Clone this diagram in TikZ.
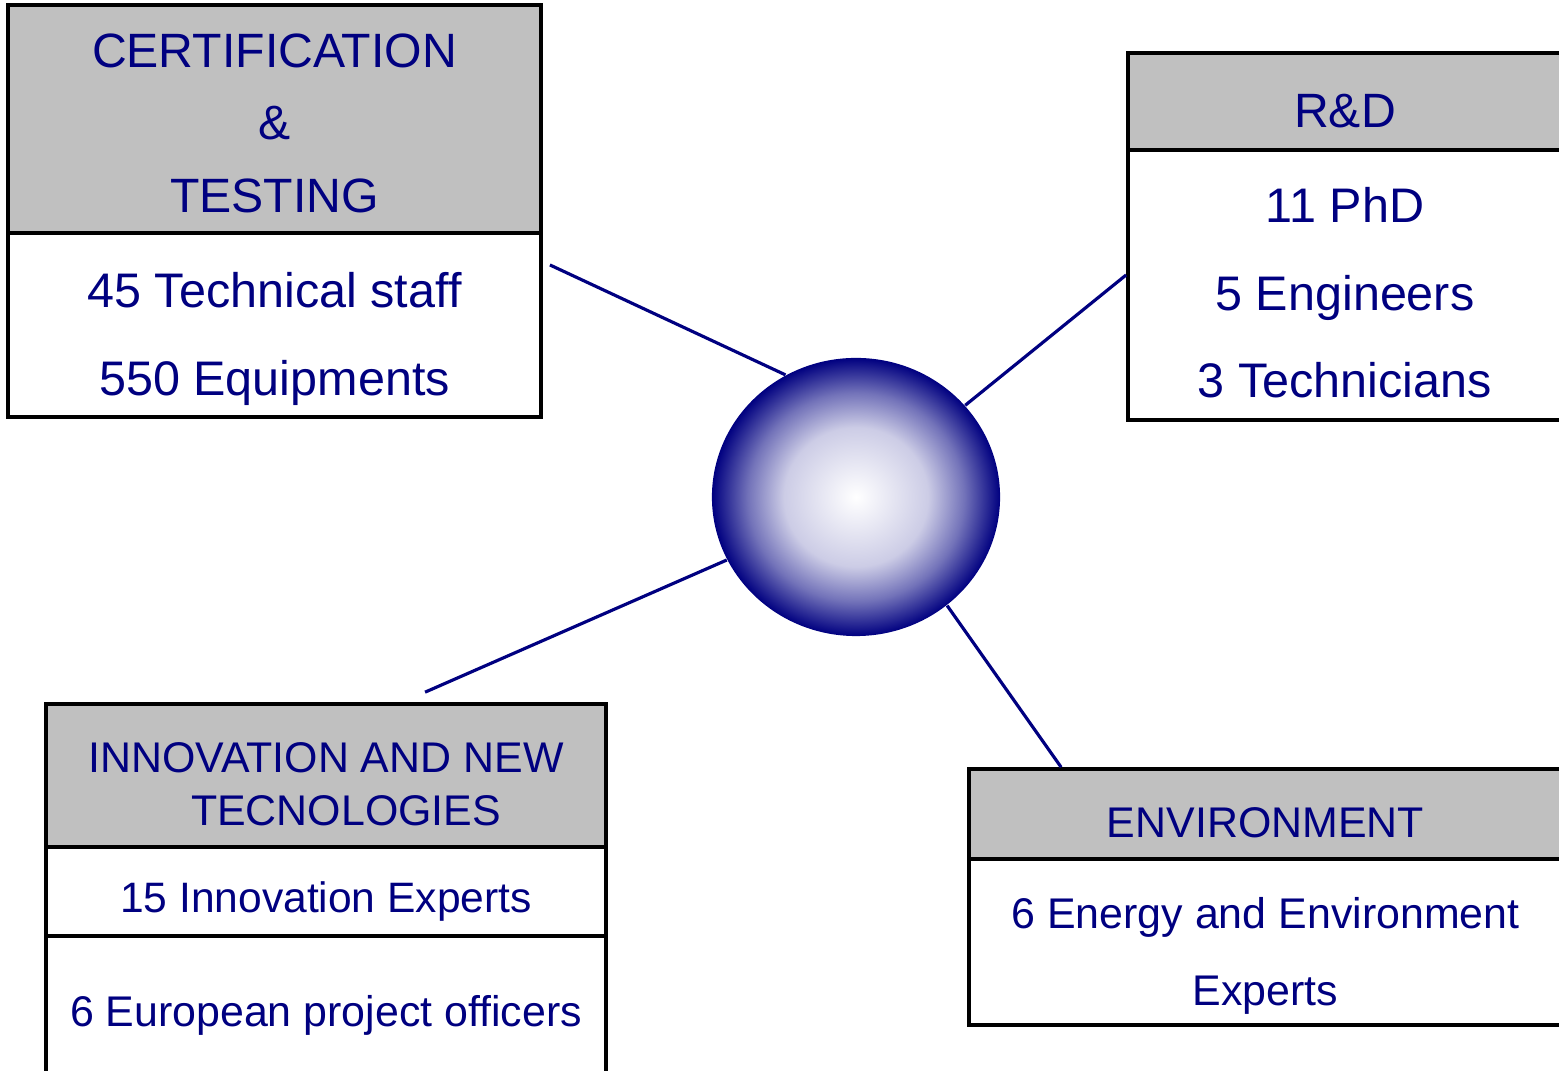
\documentclass[tikz,border=0pt]{standalone}
\usepackage{fontspec}
\setmainfont{Liberation Sans}
\usepackage{xcolor}
\definecolor{dnnavy}{HTML}{000080}
\definecolor{dnxam}{HTML}{C0C0C0}
\colorlet{caua}{white!80!dnnavy}
\colorlet{caub}{white!45!dnnavy}
\colorlet{cauc}{white!18!dnnavy}
\def\mauchu{dnnavy}
\def\maunen{dnxam}
\usepackage{tikz}
\usetikzlibrary{calc,positioning,shapes.geometric}
\pgfdeclareradialshading{quacau}{\pgfpoint{0bp}{0bp}}{color(0bp)=(white);color(12.5bp)=(caua);color(18.75bp)=(caub);color(22.5bp)=(cauc);color(25bp)=(dnnavy);color(50bp)=(dnnavy)}

\begin{document}
\begin{tikzpicture}[x=0.01cm,y=-0.01cm]
	\tikzstyle{hopstyle} = [draw=black,line width=1pt,rectangle,inner sep=0pt,text=\mauchu,align=center,text depth=0pt]
	\tikzstyle{dauhop} = [hopstyle,fill=\maunen]
	\tikzstyle{thanhop} = [hopstyle,fill=white]
	\tikzstyle{linestyle} = [line width=.9pt,\mauchu]
	\useasboundingbox (0,0) rectangle (1559,1071);
	\clip (0,0) rectangle (1559,1071);
	% CERTIFICATION & TESTING
	\node[dauhop,minimum width=5.33cm,minimum height=2.28cm,text height=1.86cm,font=\fontsize{13.7}{20.5}\selectfont] (cthead) at (274.5,119) {CERTIFICATION\\\&\\TESTING};
	\node[thanhop,minimum width=5.33cm,minimum height=1.84cm,text height=1.40cm,font=\fontsize{13.8}{24.75}\selectfont] (ctbody) at (274.5,325) {45 Technical staff\\550 Equipments};
	% R&D
	\node[dauhop,minimum width=4.34cm,minimum height=.97cm,text height=.53cm,font=\fontsize{13.7}{16}\selectfont] (rdhead) at (1345,101.5) {R\&D};
	\node[thanhop,minimum width=4.34cm,minimum height=2.70cm,text height=2.24cm,font=\fontsize{13.8}{24.75}\selectfont] (rdbody) at (1345,285) {11 PhD\\5 Engineers\\3 Technicians};
	% INNOVATION
	\node[dauhop,minimum width=5.60cm,minimum height=1.43cm,text height=.99cm,font=\fontsize{12.2}{14.8}\selectfont] (ithead) at (326,775.5) {INNOVATION AND NEW\\\hspace*{.4cm}TECNOLOGIES};
	\node[thanhop,minimum width=5.60cm,minimum height=.89cm,text height=.43cm,font=\fontsize{12.1}{14}\selectfont] (itmid) at (326,891.5) {15 Innovation Experts};
	\node[thanhop,minimum width=5.60cm,minimum height=1.54cm,text height=.28cm,font=\fontsize{12.2}{14}\selectfont] (itbody) at (326,1013) {6 European project officers};
	% ENVIRONMENT
	\node[dauhop,minimum width=5.93cm,minimum height=.90cm,text height=.48cm,font=\fontsize{12.2}{14}\selectfont] (envhead) at (1265.5,814) {ENVIRONMENT};
	\node[thanhop,minimum width=5.93cm,minimum height=1.66cm,text height=1.26cm,font=\fontsize{12.2}{21.9}\selectfont] (envbody) at (1265.5,942) {6 Energy and Environment\\Experts};
	% qua cau
	\node[ellipse,minimum width=2.88cm,minimum height=2.78cm,inner sep=0pt,shading=quacau] (hub) at (856,497) {};
	\coordinate (ctlink) at ([xshift=.07cm,yshift=.6cm]ctbody.east);
	\coordinate (rdlink) at ([yshift=.1cm]rdbody.west);
	\coordinate (itlink) at ([xshift=.99cm,yshift=.1cm]ithead.north);
	\coordinate (envlink) at ([xshift=.94cm]envhead.north west);
	\draw[linestyle] (ctlink) -- (hub.120);
	\draw[linestyle] (hub.40) -- (rdlink);
	\draw[linestyle] (hub.206) -- (itlink);
	\draw[linestyle] (hub.-50) -- (envlink);
\end{tikzpicture}
\end{document}
